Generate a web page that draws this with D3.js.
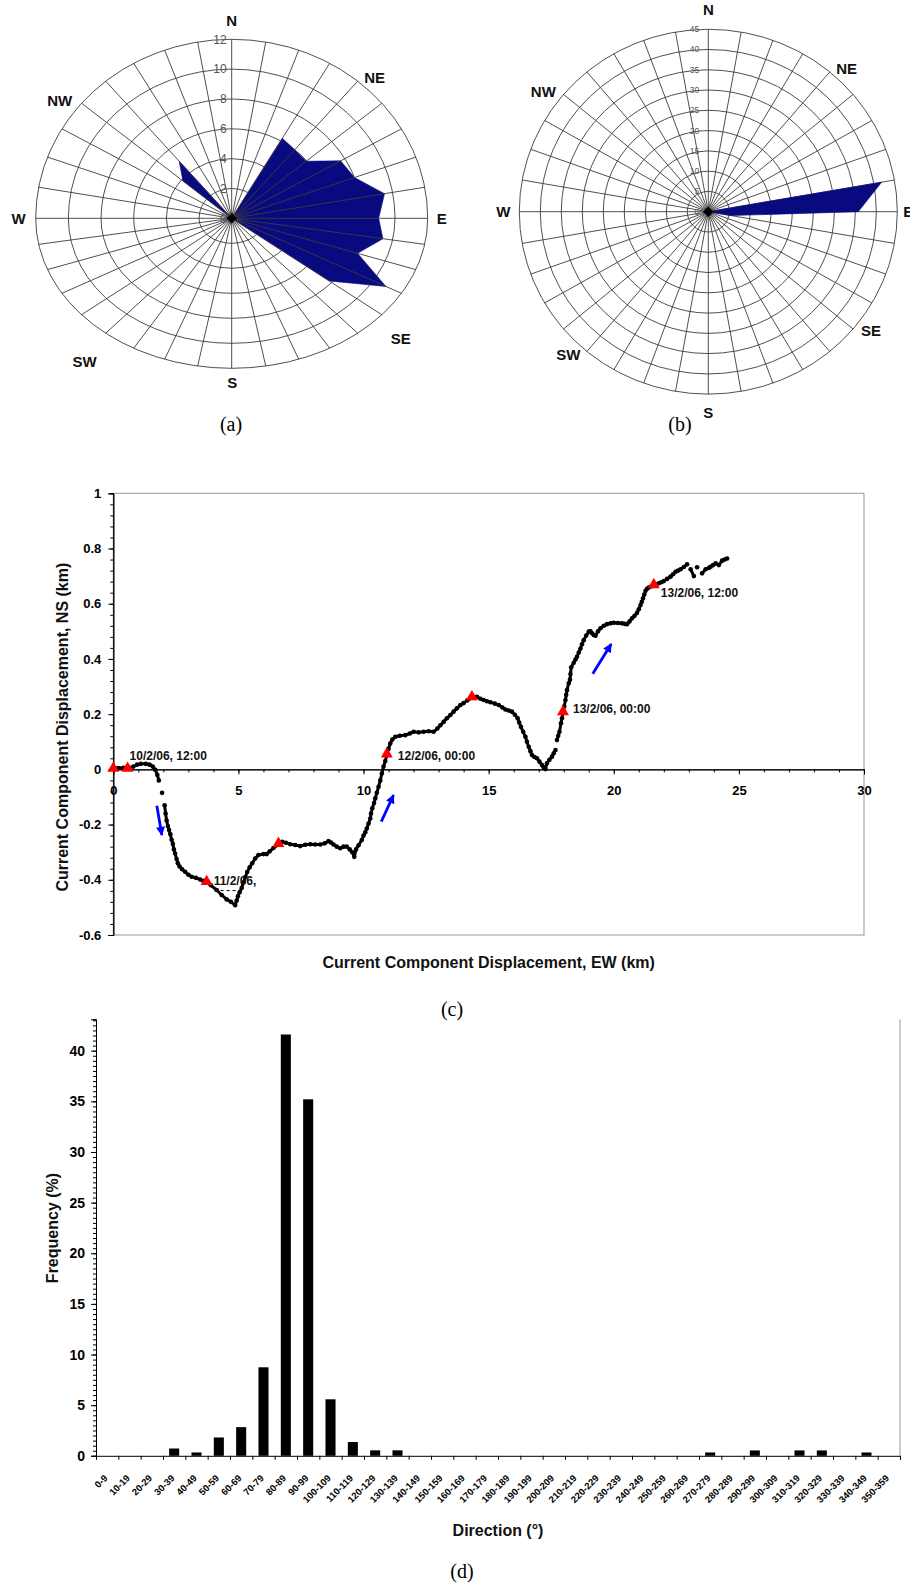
<!DOCTYPE html>
<html>
<head>
<meta charset="utf-8">
<script src="https://cdnjs.cloudflare.com/ajax/libs/d3/7.8.5/d3.min.js"></script>
<style>
  body { margin: 0; background: #fff; }
  svg text { font-family: "Liberation Sans", Arial, sans-serif; }
  .cap { font-family: "Liberation Serif", "Times New Roman", serif !important; font-size: 20px; }
</style>
</head>
<body>
<svg id="fig" width="910" height="1585"></svg>
<script>
// ---- rose data (10 degree sectors, clockwise from N) ----
const roseDirections = [0,10,20,30,40,50,60,70,80,90,100,110,120,130,140,150,160,170,
                        180,190,200,210,220,230,240,250,260,270,280,290,300,310,320,330,340,350];
const roseAValues = [0,0,0,6.2,6.0,5.95,7.7,8.0,9.5,9.0,9.4,8.2,10.9,7.8,
                     0,0,0,0,0,0,0,0,0,0,0,0,0,0,0,0,0,3.9,5.0,0,0,0];
const roseBValues = [0,0,0,0,0,0,0,0,41.9,35.7,5.5,
                     0,0,0,0,0,0,0,0,0,0,0,0,0,0,0,0,0,0,0,0,0,0,0,0,0];
const roseARings = [0,2,4,6,8,10,12];
const roseBRings = [0,5,10,15,20,25,30,35,40,45];
const compassNames = ['N','NE','E','SE','S','SW','W','NW'];

// ---- (c) progressive vector: [EW km, NS km], null = gap between dots ----
const track = [
  [0.0,0.004],[0.2,0.005],[0.4,0.006],[0.6,0.006],[0.8,0.01],[0.95,0.017],[1.1,0.02],[1.3,0.02],
  [1.45,0.017],[1.58,0.01],[1.68,-0.002],[1.76,-0.02],[1.82,-0.04],null,
  [1.95,-0.085],null,
  [2.05,-0.13],[2.09,-0.16],[2.13,-0.185],[2.18,-0.205],[2.23,-0.22],[2.28,-0.235],[2.33,-0.255],
  [2.38,-0.27],[2.42,-0.29],[2.47,-0.305],[2.53,-0.325],[2.58,-0.34],[2.65,-0.352],[2.75,-0.362],
  [2.87,-0.371],[3.0,-0.382],[3.13,-0.389],[3.3,-0.393],[3.47,-0.399],[3.6,-0.404],[3.73,-0.41],
  [3.9,-0.42],[4.13,-0.437],[4.33,-0.455],[4.53,-0.471],[4.7,-0.48],[4.87,-0.492],
  [4.93,-0.475],[4.98,-0.46],[5.05,-0.445],[5.13,-0.43],[5.2,-0.41],[5.28,-0.39],[5.35,-0.372],
  [5.45,-0.355],[5.55,-0.34],[5.67,-0.323],[5.8,-0.31],[6.0,-0.307],[6.13,-0.307],[6.25,-0.297],
  [6.4,-0.285],[6.6,-0.272],[6.75,-0.262],[6.9,-0.266],[7.07,-0.271],[7.27,-0.274],[7.47,-0.278],
  [7.67,-0.273],[7.87,-0.271],[8.07,-0.272],[8.27,-0.272],[8.45,-0.268],[8.6,-0.26],[8.7,-0.265],
  [8.8,-0.272],[8.93,-0.28],[9.07,-0.286],[9.2,-0.28],[9.33,-0.28],[9.45,-0.29],[9.55,-0.3],
  [9.63,-0.317],[9.7,-0.29],[9.8,-0.275],[9.93,-0.256],[10.0,-0.24],
  [10.07,-0.228],[10.13,-0.214],[10.2,-0.196],[10.27,-0.178],[10.3,-0.16],[10.35,-0.141],
  [10.42,-0.122],[10.47,-0.105],[10.53,-0.085],[10.6,-0.063],[10.67,-0.04],[10.73,-0.015],
  [10.8,0.01],[10.87,0.03],[10.93,0.052],
  [11.0,0.075],[11.07,0.094],[11.15,0.108],[11.27,0.118],[11.45,0.122],[11.67,0.124],[11.85,0.13],
  [12.0,0.136],[12.2,0.134],[12.4,0.136],[12.6,0.138],[12.8,0.136],[12.95,0.148],[13.07,0.16],
  [13.2,0.172],[13.33,0.185],[13.47,0.197],[13.6,0.209],[13.73,0.221],[13.87,0.233],[14.0,0.24],
  [14.15,0.25],[14.33,0.259],[14.53,0.263],[14.67,0.256],[14.8,0.251],[14.93,0.247],[15.07,0.243],
  [15.25,0.238],[15.4,0.233],[15.55,0.224],[15.67,0.217],[15.8,0.213],[15.93,0.209],[16.05,0.198],
  [16.16,0.185],[16.22,0.17],[16.29,0.154],[16.38,0.136],[16.47,0.118],[16.53,0.1],[16.6,0.082],
  [16.67,0.066],[16.73,0.052],[16.83,0.045],[16.93,0.04],[17.03,0.028],[17.13,0.016],[17.2,0.008],
  [17.27,0.001],[17.33,0.022],[17.43,0.035],[17.53,0.046],[17.6,0.058],[17.67,0.07],null,
  [17.73,0.106],[17.78,0.122],[17.83,0.136],[17.89,0.167],[17.93,0.185],[17.97,0.205],[18.02,0.228],
  [18.07,0.251],[18.1,0.27],[18.13,0.287],[18.2,0.312],[18.25,0.325],[18.27,0.345],[18.3,0.37],
  [18.4,0.386],[18.47,0.398],[18.53,0.408],[18.6,0.423],[18.67,0.438],[18.73,0.453],[18.8,0.468],
  [18.9,0.485],[19.0,0.499],[19.07,0.5],[19.13,0.493],[19.2,0.487],[19.27,0.484],[19.37,0.5],
  [19.47,0.511],[19.6,0.52],[19.73,0.526],[19.87,0.529],[20.0,0.531],[20.17,0.53],[20.33,0.529],
  [20.45,0.527],[20.53,0.526],[20.63,0.536],[20.73,0.547],[20.83,0.556],[20.93,0.567],[21.0,0.58],
  [21.07,0.595],[21.12,0.607],[21.17,0.62],[21.22,0.633],[21.27,0.647],[21.33,0.654],[21.4,0.659],
  [21.5,0.663],[21.6,0.665],[21.7,0.67],[21.8,0.674],[21.9,0.678],[22.0,0.682],[22.13,0.69],
  [22.27,0.698],[22.37,0.707],[22.47,0.716],[22.57,0.72],[22.67,0.725],[22.8,0.733],[22.93,0.743],null,
  [23.07,0.725],[23.2,0.7],null,[23.33,0.732],null,
  [23.53,0.71],[23.67,0.725],[23.8,0.73],[23.87,0.734],[23.97,0.74],[24.07,0.746],[24.2,0.74],
  [24.33,0.756],[24.43,0.76],[24.53,0.764]
];
const timeMarks = [[0,0],[0.57,0],[3.73,-0.41],[6.6,-0.272],[10.93,0.052],[14.33,0.259],[17.97,0.205],[21.6,0.665]];
const timeLabels = ['10/2/06, 12:00','11/2/06,','12/2/06, 00:00','13/2/06, 00:00','13/2/06, 12:00'];
const timeLabelMark = [1,2,4,6,7];
const flowArrows = [[1.74,-0.132,1.94,-0.238],[10.71,-0.189,11.2,-0.093],[19.16,0.346,19.9,0.454]];
const ewTicks = [0,5,10,15,20,25,30];
const nsTicks = [-0.6,-0.4,-0.2,0,0.2,0.4,0.6,0.8,1];

// ---- (d) direction histogram ----
const dirBins = ['0-9','10-19','20-29','30-39','40-49','50-59','60-69','70-79','80-89','90-99',
  '100-109','110-119','120-129','130-139','140-149','150-159','160-169','170-179','180-189',
  '190-199','200-209','210-219','220-229','230-239','240-249','250-259','260-269','270-279',
  '280-289','290-299','300-309','310-319','320-329','330-339','340-349','350-359'];
const dirFreq = [0,0,0,0.72,0.33,1.81,2.83,8.74,41.6,35.2,5.58,1.36,0.54,0.54,
  0,0,0,0,0,0,0,0,0,0,0,0,0,0.33,0,0.53,0,0.53,0.53,0,0.33,0];
const freqTicks = [0,5,10,15,20,25,30,35,40];

const fig = d3.select('#fig');

// ================= wind roses =================
function drawRose(o) {
  const r = d3.scaleLinear().domain([0, o.max]).range([0, 1]);
  // upper and lower halves of the scanned roses are not equally tall
  const pt = (dir, v) => {
    const a = dir * Math.PI / 180, c = Math.cos(a);
    return [o.cx + r(v) * o.rx * Math.sin(a), o.cy - r(v) * (c >= 0 ? o.ryTop : o.ryBot) * c];
  };
  const g = fig.append('g');
  const grid = '#3c3c3c';

  g.selectAll('.ring').data(o.rings.filter(v => v > 0)).enter().append('path')
    .attr('d', v => {
      const a = r(v) * o.rx, bt = r(v) * o.ryTop, bb = r(v) * o.ryBot;
      return `M${o.cx - a},${o.cy}A${a},${bt} 0 0 1 ${o.cx + a},${o.cy}A${a},${bb} 0 0 1 ${o.cx - a},${o.cy}Z`;
    })
    .attr('fill', 'none').attr('stroke', grid).attr('stroke-width', 0.9);

  const spokes = () => g.selectAll('.spoke').data(roseDirections).enter().append('line')
    .attr('x1', o.cx).attr('y1', o.cy)
    .attr('x2', d => pt(d, o.max)[0]).attr('y2', d => pt(d, o.max)[1])
    .attr('stroke', grid).attr('stroke-width', 0.9);

  const fill = () => g.append('path')
    .datum(o.values.map((v, i) => pt(roseDirections[i], v)))
    .attr('d', d3.line().curve(d3.curveLinearClosed))
    .attr('fill', '#0a0a80').attr('stroke', '#0a0a80').attr('stroke-width', 0.6);

  if (o.spokesOnTop) { fill(); spokes(); } else { spokes(); fill(); }

  // centre marker
  g.append('path').attr('transform', `translate(${o.cx},${o.cy})`)
    .attr('d', d3.symbol(d3.symbolDiamond2).size(70)).attr('fill', '#000');

  g.selectAll('.rl').data(o.rings).enter().append('text')
    .attr('x', o.cx - o.labelGap).attr('y', v => pt(0, v)[1]).attr('dy', '0.35em')
    .attr('text-anchor', 'end').attr('font-size', o.labelSize).attr('fill', '#555')
    .text(v => v);

  g.selectAll('.cl').data(compassNames).enter().append('text')
    .attr('x', (d, i) => o.cx + o.compassPos[i][0]).attr('y', (d, i) => o.cy + o.compassPos[i][1])
    .attr('dy', '0.36em').attr('text-anchor', 'middle')
    .attr('font-size', 15).attr('font-weight', 'bold').attr('fill', '#111')
    .text(d => d);
}

drawRose({
  cx: 231.7, cy: 218.3, rx: 196, ryTop: 179, ryBot: 150, max: 12,
  rings: roseARings, values: roseAValues, spokesOnTop: true, labelSize: 12, labelGap: 5,
  compassPos: [[0,-198],[143,-141],[210,0],[169,120],[0.6,164],[-147,143],[-213,0],[-172,-118]]
});
drawRose({
  cx: 708.3, cy: 211.7, rx: 189, ryTop: 182.5, ryBot: 182.5, max: 45,
  rings: roseBRings, values: roseBValues, spokesOnTop: false, labelSize: 8.5, labelGap: 9,
  compassPos: [[0,-201.7],[138.4,-143.4],[200,0],[162.7,119.3],[0,200.6],[-140,143.3],[-205,0],[-165,-120]]
});

fig.append('text').attr('class', 'cap').attr('x', 231).attr('y', 431).attr('text-anchor', 'middle').text('(a)');
fig.append('text').attr('class', 'cap').attr('x', 680).attr('y', 431).attr('text-anchor', 'middle').text('(b)');

// ================= (c) progressive vector diagram =================
{
  const L = 113.3, R = 864, T = 493.3, B = 935;
  const x = d3.scaleLinear().domain([0, 30]).range([L, R]);
  const y = d3.scaleLinear().domain([-0.6, 1]).range([B, T]);
  const g = fig.append('g');

  g.append('rect').attr('x', L).attr('y', T).attr('width', R - L).attr('height', B - T)
    .attr('fill', 'none').attr('stroke', '#999').attr('stroke-width', 1);

  const ax = (sel) => { sel.selectAll('path,line').attr('stroke', '#000'); };

  g.append('g').attr('transform', `translate(${L},0)`)
    .call(d3.axisLeft(y).tickValues(d3.range(-15, 26).map(i => i * 0.04)).tickSize(3).tickFormat(''))
    .call(ax);
  g.append('g').attr('transform', `translate(${L},0)`)
    .call(d3.axisLeft(y).tickValues(nsTicks).tickSize(5).tickPadding(7).tickFormat(d => String(d)))
    .call(ax)
    .selectAll('text').attr('font-size', 13).attr('font-weight', 'bold').attr('fill', '#000')
    .attr('font-family', '"Liberation Sans", Arial, sans-serif');

  g.append('g').attr('transform', `translate(0,${y(0)})`)
    .call(d3.axisBottom(x).tickValues(d3.range(0, 31)).tickSize(3).tickFormat(''))
    .call(ax);
  g.append('g').attr('transform', `translate(0,${y(0)})`)
    .call(d3.axisBottom(x).tickValues(ewTicks).tickSize(5).tickPadding(11).tickFormat(d => String(d)))
    .call(ax)
    .selectAll('text').attr('font-size', 13).attr('font-weight', 'bold').attr('fill', '#000')
    .attr('font-family', '"Liberation Sans", Arial, sans-serif');

  // trajectory
  g.append('path').datum(track)
    .attr('d', d3.line().defined(d => d).x(d => x(d[0])).y(d => y(d[1])))
    .attr('fill', 'none').attr('stroke', '#000').attr('stroke-width', 3)
    .attr('stroke-linejoin', 'round').attr('stroke-linecap', 'round');
  g.selectAll('.dot').data(track.filter(d => d)).enter().append('circle')
    .attr('cx', d => x(d[0])).attr('cy', d => y(d[1])).attr('r', 2.3).attr('fill', '#000');

  // time markers
  g.selectAll('.tm').data(timeMarks).enter().append('path')
    .attr('transform', d => `translate(${x(d[0])},${y(d[1]) - 1})`)
    .attr('d', d3.symbol(d3.symbolTriangle).size(62)).attr('fill', '#ff0000');

  const labOff = [[2, -9], [7, 2], [11, 5], [10, 0], [7, 11]];
  g.selectAll('.tl').data(timeLabels).enter().append('text')
    .attr('x', (d, i) => x(timeMarks[timeLabelMark[i]][0]) + labOff[i][0])
    .attr('y', (d, i) => y(timeMarks[timeLabelMark[i]][1]) + labOff[i][1])
    .attr('font-size', 12).attr('font-weight', 'bold').attr('fill', '#111')
    .text(d => d);
  // leftover of the hidden "00:00" label
  g.append('line')
    .attr('x1', x(timeMarks[2][0]) + 8).attr('x2', x(timeMarks[2][0]) + 34)
    .attr('y1', y(timeMarks[2][1]) + 8).attr('y2', y(timeMarks[2][1]) + 8)
    .attr('stroke', '#000').attr('stroke-width', 1).attr('stroke-dasharray', '3,3');

  // flow arrows
  fig.append('defs').append('marker').attr('id', 'ah')
    .attr('viewBox', '0 0 10 10').attr('refX', 9).attr('refY', 5)
    .attr('markerUnits', 'userSpaceOnUse').attr('markerWidth', 10).attr('markerHeight', 9)
    .attr('orient', 'auto')
    .append('path').attr('d', 'M0,0L10,5L0,10Z').attr('fill', '#0000ff');
  g.selectAll('.fa').data(flowArrows).enter().append('line')
    .attr('x1', d => x(d[0])).attr('y1', d => y(d[1]))
    .attr('x2', d => x(d[2])).attr('y2', d => y(d[3]))
    .attr('stroke', '#0000ff').attr('stroke-width', 2.8).attr('marker-end', 'url(#ah)');

  g.append('text')
    .attr('transform', `translate(62,${(T + B) / 2 + 13}) rotate(-90)`)
    .attr('text-anchor', 'middle').attr('dy', '0.35em')
    .attr('font-size', 16).attr('font-weight', 'bold').attr('fill', '#111')
    .text('Current Component Displacement, NS (km)');
  g.append('text').attr('x', (L + R) / 2).attr('y', 962).attr('dy', '0.35em')
    .attr('text-anchor', 'middle').attr('font-size', 16).attr('font-weight', 'bold').attr('fill', '#111')
    .text('Current Component Displacement, EW (km)');
}
fig.append('text').attr('class', 'cap').attr('x', 452).attr('y', 1016).attr('text-anchor', 'middle').text('(c)');

// ================= (d) direction histogram =================
{
  const L = 96, R = 900, T = 1019.3, B = 1455.8;
  const xb = d3.scaleBand().domain(dirBins).range([L, R]).paddingInner(0.55).paddingOuter(0.275);
  const xe = d3.scaleLinear().domain([0, dirBins.length]).range([L, R]);
  const y = d3.scaleLinear().domain([0, 43.1]).range([B, T]);
  const g = fig.append('g');
  const ax = (sel) => { sel.selectAll('path,line').attr('stroke', '#000'); };

  g.append('line').attr('x1', R).attr('x2', R).attr('y1', T).attr('y2', B)
    .attr('stroke', '#999').attr('stroke-width', 1);

  g.selectAll('.bar').data(dirFreq).enter().append('rect')
    .attr('x', (d, i) => xb(dirBins[i])).attr('width', xb.bandwidth())
    .attr('y', d => y(d)).attr('height', d => y(0) - y(d)).attr('fill', '#000');

  g.append('g').attr('transform', `translate(${L},0)`)
    .call(d3.axisLeft(y).tickValues(d3.range(0, 87).map(i => i * 0.5)).tickSize(3).tickFormat(''))
    .call(ax);
  g.append('g').attr('transform', `translate(${L},0)`)
    .call(d3.axisLeft(y).tickValues(freqTicks).tickSize(5).tickPadding(6))
    .call(ax)
    .selectAll('text').attr('font-size', 14).attr('font-weight', 'bold').attr('fill', '#000')
    .attr('font-family', '"Liberation Sans", Arial, sans-serif');

  g.append('g').attr('transform', `translate(0,${B})`)
    .call(d3.axisBottom(xe).tickValues(d3.range(0, dirBins.length + 1)).tickSize(4).tickFormat(''))
    .call(ax);
  const xa = g.append('g').attr('transform', `translate(0,${B})`)
    .call(d3.axisBottom(xb).tickSize(0));
  xa.select('.domain').remove();
  xa.selectAll('text')
    .attr('y', 0).attr('dy', 0).attr('x', 0)
    .attr('transform', 'translate(1,23) rotate(-45)')
    .attr('text-anchor', 'end').attr('font-size', 9.5).attr('font-weight', 'bold').attr('fill', '#000')
    .attr('font-family', '"Liberation Sans", Arial, sans-serif');

  g.append('text').attr('transform', `translate(52,1228) rotate(-90)`)
    .attr('text-anchor', 'middle').attr('dy', '0.35em')
    .attr('font-size', 16).attr('font-weight', 'bold').attr('fill', '#111')
    .text('Frequency (%)');
  g.append('text').attr('x', 498).attr('y', 1530).attr('dy', '0.35em')
    .attr('text-anchor', 'middle').attr('font-size', 16).attr('font-weight', 'bold').attr('fill', '#111')
    .text('Direction (°)');
}
fig.append('text').attr('class', 'cap').attr('x', 462).attr('y', 1578).attr('text-anchor', 'middle').text('(d)');
</script>
</body>
</html>
